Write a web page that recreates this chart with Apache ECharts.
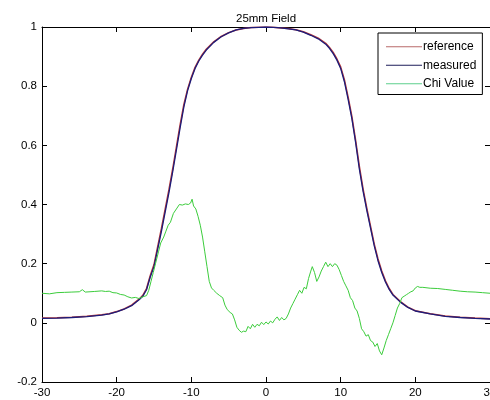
<!DOCTYPE html>
<html>
<head>
<meta charset="utf-8">
<script src="https://cdn.jsdelivr.net/npm/echarts@6/dist/echarts.min.js"></script>
<style>
html,body{margin:0;padding:0;background:#fff;}
#c{width:490px;height:400px;}
</style>
</head>
<body>
<div id="c"></div>
<script>
var titleText = '25mm Field';
var seriesNames = ['reference', 'measured', 'Chi Value'];
var xTicks = [-30, -20, -10, 0, 10, 20, 30];
var yTicks = [-0.2, 0, 0.2, 0.4, 0.6, 0.8, 1];

var profileX = [-30,-28,-26,-24,-22,-21,-20,-19,-18,-17,-16.5,-16,-15.5,-15,-14.5,-14,-13.5,-13,-12.5,-12,-11.5,-11,-10.5,-10,-9.5,-9,-8.5,-8,-7,-6,-5,-4,-3,-2,-1,0,
  1,2,3,4,5,6,7,8,8.5,9,9.5,10,10.5,11,11.5,12,12.5,13,13.5,14,14.5,15,15.5,16,16.5,17,18,19,20,22,24,26,28,30];
var measuredY = [0.015,0.016,0.018,0.021,0.026,0.030,0.037,0.046,0.058,0.078,0.090,0.112,0.155,0.19,0.25,0.31,0.375,0.44,0.51,0.585,0.66,0.73,0.785,0.826,0.86,0.885,0.905,0.922,0.948,0.967,0.98,0.99,0.995,0.998,0.999,1.0,
  0.999,0.997,0.994,0.99,0.983,0.972,0.96,0.942,0.928,0.91,0.888,0.86,0.815,0.755,0.69,0.61,0.52,0.445,0.38,0.32,0.26,0.21,0.17,0.138,0.113,0.094,0.07,0.052,0.04,0.03,0.022,0.018,0.015,0.013];
var referenceY = [0.016,0.017,0.019,0.022,0.027,0.031,0.038,0.047,0.060,0.080,0.093,0.116,0.160,0.197,0.258,0.32,0.385,0.45,0.52,0.595,0.67,0.738,0.79,0.83,0.864,0.888,0.908,0.925,0.95,0.968,0.981,0.99,0.995,0.998,0.999,1.0,
  0.999,0.997,0.995,0.991,0.984,0.974,0.962,0.945,0.931,0.914,0.892,0.865,0.822,0.763,0.698,0.618,0.53,0.453,0.388,0.327,0.266,0.216,0.175,0.142,0.116,0.096,0.072,0.053,0.041,0.031,0.023,0.019,0.016,0.014];

var chiX = [-30,-29,-28,-27,-26,-25,-24.6,-24.2,-23,-22,-21.5,-21,-20.5,-20,-19.5,-19,-18.5,-18,-17.5,-17,-16.5,-16,-15.7,-15.4,-15.1,-14.8,-14.4,-14.1,-13.7,-13.4,-13.1,-12.8,-12.4,-12,-11.6,-11.2,-10.8,-10.4,-10.1,-9.9,-9.7,-9.4,-9.1,-8.8,-8.5,-8.2,-7.9,-7.6,-7.3,-7.0,-6.6,-6.2,-5.8,-5.5,-5.2,-4.8,-4.5,-4.2,-3.9,-3.6,-3.3,-3.0,-2.7,-2.4,-2.1,-1.8,-1.5,-1.2,-0.9,-0.6,-0.3,0,
  0.3,0.6,0.9,1.2,1.5,1.8,2.1,2.4,2.7,3.0,3.3,3.6,3.9,4.2,4.5,4.8,5.1,5.4,5.7,6.0,6.2,6.5,6.8,7.1,7.4,7.7,8.0,8.3,8.6,8.9,9.2,9.5,9.8,10.1,10.4,10.7,11.0,11.3,11.6,11.9,12.2,12.5,12.8,13.1,13.4,13.7,14.0,14.3,14.6,14.9,15.2,15.5,15.8,16.1,16.4,16.7,17.0,17.3,17.6,17.9,18.2,18.5,18.8,19.1,19.4,19.7,20.0,20.3,20.6,21,22,23,24,25,26,27,28,29,30];
var chiY = [0.10,0.098,0.102,0.103,0.104,0.105,0.112,0.104,0.106,0.108,0.106,0.107,0.102,0.101,0.096,0.094,0.088,0.084,0.086,0.082,0.088,0.092,0.11,0.14,0.17,0.20,0.24,0.27,0.29,0.31,0.33,0.34,0.37,0.385,0.40,0.398,0.402,0.40,0.405,0.418,0.395,0.385,0.36,0.33,0.29,0.24,0.19,0.14,0.118,0.11,0.10,0.092,0.085,0.06,0.045,0.035,0.03,0.01,-0.015,-0.025,-0.032,-0.028,-0.03,-0.012,-0.02,-0.005,-0.015,-0.005,-0.01,0.002,-0.006,0.003,
  -0.004,0.006,0.0,0.012,0.02,0.008,0.018,0.01,0.015,0.03,0.05,0.065,0.08,0.095,0.11,0.10,0.12,0.115,0.15,0.175,0.19,0.17,0.14,0.155,0.175,0.19,0.205,0.19,0.20,0.19,0.20,0.195,0.18,0.16,0.14,0.125,0.11,0.085,0.075,0.05,0.04,0.015,-0.02,-0.03,-0.045,-0.04,-0.06,-0.065,-0.08,-0.07,-0.095,-0.108,-0.085,-0.06,-0.04,-0.02,0.0,0.025,0.05,0.065,0.085,0.09,0.095,0.10,0.105,0.108,0.118,0.123,0.12,0.12,0.117,0.116,0.113,0.11,0.107,0.105,0.104,0.102,0.10];

function pairs(xs, ys) {
  var out = [];
  for (var i = 0; i < xs.length; i++) out.push([xs[i], ys[i]]);
  return out;
}

var FONT = 'Liberation Sans, Arial, sans-serif';
var chart = echarts.init(document.getElementById('c'), null, {renderer: 'canvas'});

var axisCommon = {
  axisLine: {show: true, onZero: false, lineStyle: {color: '#000', width: 1}},
  axisTick: {show: true, inside: true, length: 5, lineStyle: {color: '#000'}},
  splitLine: {show: false}
};

chart.setOption({
  backgroundColor: '#fff',
  animation: false,
  title: {
    text: titleText,
    left: 231,
    top: 8,
    textStyle: {fontFamily: FONT, fontSize: 11.5, fontWeight: 'normal', color: '#000'}
  },
  legend: {
    data: seriesNames,
    orient: 'vertical',
    left: 378,
    top: 33,
    padding: [7, 6, 4, 8],
    itemGap: 5,
    itemWidth: 36,
    itemHeight: 1,
    icon: 'rect',
    borderColor: '#000',
    borderWidth: 1,
    backgroundColor: '#fff',
    textStyle: {fontFamily: FONT, fontSize: 12, color: '#000', lineHeight: 13.5, padding: [0, 0, 0, -4]}
  },
  grid: {left: 42, right: 0, top: 27, bottom: 18, containLabel: false, outerBoundsMode: 'none'},
  xAxis: [
    Object.assign({
      type: 'value', min: xTicks[0], max: xTicks[xTicks.length - 1], interval: 10, position: 'bottom',
      axisLabel: {fontFamily: FONT, fontSize: 11.5, color: '#000', margin: 5, showMaxLabel: true}
    }, axisCommon),
    Object.assign({
      type: 'value', min: xTicks[0], max: xTicks[xTicks.length - 1], interval: 10, position: 'top',
      axisLabel: {show: false}
    }, axisCommon)
  ],
  yAxis: [
    Object.assign({
      type: 'value', min: yTicks[0], max: yTicks[yTicks.length - 1], interval: 0.2, position: 'left',
      axisLabel: {fontFamily: FONT, fontSize: 11.5, color: '#000', margin: 5,
        formatter: function (v) { return String(Math.round(v * 10) / 10); }}
    }, axisCommon),
    Object.assign({
      type: 'value', min: yTicks[0], max: yTicks[yTicks.length - 1], interval: 0.2, position: 'right',
      axisLabel: {show: false}
    }, axisCommon)
  ],
  series: [
    {
      name: seriesNames[0], type: 'line', showSymbol: false, symbol: 'none',
      data: pairs(profileX, referenceY),
      lineStyle: {color: '#b83a3a', width: 1.5}, itemStyle: {color: '#b86a6a'}, z: 2
    },
    {
      name: seriesNames[1], type: 'line', showSymbol: false, symbol: 'none',
      data: pairs(profileX, measuredY),
      lineStyle: {color: '#1c1c7a', width: 1.3}, itemStyle: {color: '#1c1c5a'}, z: 3
    },
    {
      name: seriesNames[2], type: 'line', showSymbol: false, symbol: 'none',
      data: pairs(chiX, chiY),
      lineStyle: {color: '#3ccc3c', width: 1}, itemStyle: {color: '#5ccf8c'}, z: 4
    }
  ]
});
</script>
</body>
</html>
